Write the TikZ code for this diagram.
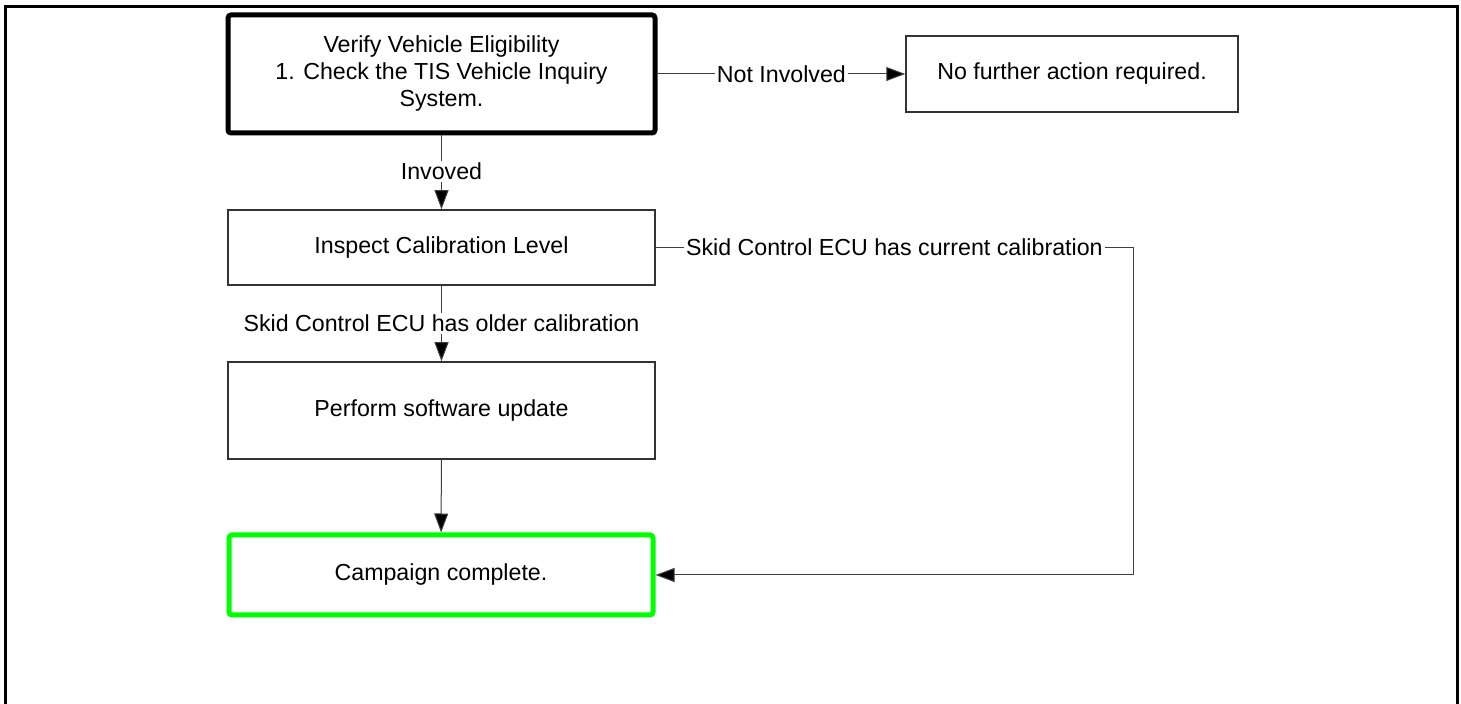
\documentclass[tikz,border=0pt]{standalone}
\usepackage{fontspec}
\setmainfont{Liberation Sans}
\usetikzlibrary{arrows.meta}

\begin{document}
\begin{tikzpicture}[x=0.5pt, y=-0.5pt,
  box/.style={shape=rectangle, draw=black!80, line width=0.75pt, align=center, inner sep=0pt, font=\fontsize{11.6}{13.5}\selectfont},
  lbl/.style={fill=white, inner sep=1pt, font=\fontsize{11.6}{13.5}\selectfont},
  arr/.style={-{Triangle[length=9.5pt, width=7pt, fill=black]}},
  link/.style={draw=black!75, line width=0.5pt}]
\useasboundingbox (0,0) rectangle (1461,704);
\draw[line width=1.5pt] (5,704) -- (5,7) -- (1457,7) -- (1457,704);

\node[box, draw=black, line width=2.5pt, rounded corners=1.5pt, minimum width=213.5pt, minimum height=59pt] (verify) at (441.5,74) {Verify Vehicle Eligibility\\1. Check the TIS Vehicle Inquiry\\System.};
\node[box, minimum width=166pt, minimum height=38pt] (nofurther) at (1072,74) {No further action required.};
\node[box, minimum width=213.5pt, minimum height=37.5pt] (inspect) at (441.5,247.5) {Inspect Calibration Level};
\node[box, minimum width=213.5pt, minimum height=48.5pt] (perform) at (441.5,410.5) {Perform software update};
\node[box, draw={rgb,255:red,0;green,255;blue,0}, line width=2.5pt, rounded corners=1.5pt, minimum width=212pt, minimum height=40pt] (campaign) at (441,575) {Campaign complete.};
\coordinate (bendtop) at (1133,247.5);
\coordinate (bendbot) at (1133,575);

\path [link, arr] (verify) edge node[lbl] {Not Involved} (nofurther);
\path [link, arr] (verify) edge node[lbl, pos=0.49] {Invoved} (inspect);
\path [link, arr] (inspect) edge node[lbl] {Skid Control ECU has older calibration} (perform);
\path [link, arr] (perform) edge (campaign);
\draw [link, arr] (inspect) -- node[lbl] {Skid Control ECU has current calibration} (bendtop) -- (bendbot) -- (campaign);
\end{tikzpicture}
\end{document}
